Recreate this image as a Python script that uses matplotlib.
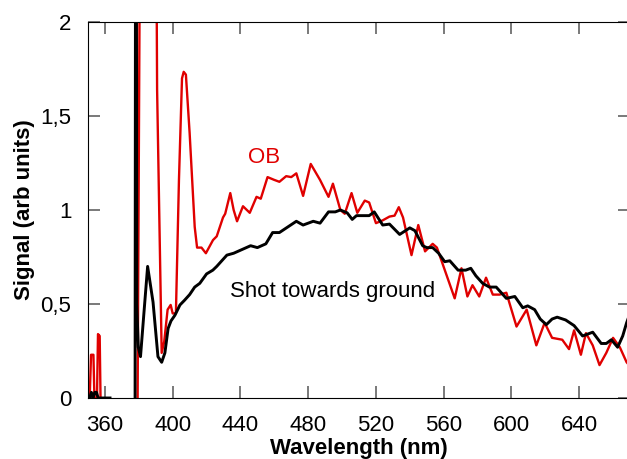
import matplotlib
matplotlib.use("Agg")
import matplotlib.pyplot as plt
from matplotlib.ticker import FuncFormatter

plt.rcParams['font.family'] = ['Liberation Sans', 'DejaVu Sans']

nan = float('nan')

# Shot towards ground (black)
black_wl = [351, 352, 353, 354, 355, 356, 363, 370, 377.8, 378.3, 378.8, 379.7, 381, 383, 385.2, 388.4,
            391.3, 393.5, 395.4, 397.3, 399, 401.3, 404.3, 407, 410, 413, 416, 420, 423.7, 426,
            429, 432, 436, 441, 446, 450, 455, 459, 463, 468, 473, 477, 483, 487, 492, 496, 499,
            503, 506, 508.5, 516, 519, 524, 528, 534, 540, 543, 547.6, 550, 553.5, 557, 560.6,
            563.6, 568.5, 573, 576, 579, 583, 587, 591, 594, 597, 602, 606.7, 609.6, 613.7, 617,
            620.6, 624, 627, 632, 637, 642, 645, 648, 653, 656, 659, 662.7, 665.7, 668, 670]
black_val = [0, 0.03, 0.0, 0.03, 0.03, 0.0, 0.0, nan, 0.0, 5.0, 0.5, 0.27, 0.22, 0.45, 0.70, 0.51,
             0.22, 0.19, 0.24, 0.37, 0.41, 0.44, 0.495, 0.52, 0.55, 0.59, 0.61, 0.66, 0.68, 0.70,
             0.73, 0.76, 0.77, 0.79, 0.81, 0.80, 0.82, 0.88, 0.88, 0.91, 0.94, 0.92, 0.94, 0.93,
             0.99, 0.99, 1.0, 0.985, 0.95, 0.97, 0.97, 0.99, 0.92, 0.925, 0.87, 0.905, 0.89, 0.81,
             0.80, 0.80, 0.77, 0.725, 0.73, 0.68, 0.68, 0.69, 0.65, 0.61, 0.59, 0.59, 0.56, 0.53,
             0.54, 0.48, 0.49, 0.47, 0.42, 0.39, 0.42, 0.43, 0.415, 0.385, 0.33, 0.34, 0.35, 0.29,
             0.29, 0.31, 0.27, 0.33, 0.40, 0.45]

# OB (red)
red_wl = [351, 351.8, 353.2, 353.8, 355.3, 355.9, 356.9, 357.4, 368, 379.3, 381.5, 389.5, 390.8,
          393.5, 395, 397, 398.8, 400, 401.9, 403.7, 405.5, 406.5, 407.8, 410, 413, 414.4, 417, 419.6,
          423.8, 426, 429.7, 431, 434, 436, 438, 441.5, 445.5, 449.5, 452, 456, 460, 463, 467,
          470, 473, 477, 481.5, 487, 492, 494.6, 499, 501.6, 505.6, 509, 513.4, 516, 520, 524,
          528, 531, 533.5, 536, 541, 545, 549, 553.5, 556, 559.5, 566.5, 570.5, 574, 577, 581,
          585, 589, 593, 597, 603, 609, 614.7, 619.6, 624, 630, 634, 637, 641, 644, 648, 652,
          656, 660, 664, 668, 670]
red_val = [0, 0.23, 0.23, 0, 0, 0.34, 0.33, 0, nan, 0, 4.0, 4.0, 1.64,
           0.24, 0.30, 0.47, 0.495, 0.45, 0.45, 1.16, 1.70, 1.735, 1.72, 1.41, 0.91, 0.80, 0.80, 0.77,
           0.84, 0.86, 0.96, 0.98, 1.09, 1.0, 0.94, 1.02, 0.985, 1.07, 1.06, 1.175, 1.16, 1.15,
           1.18, 1.175, 1.195, 1.075, 1.245, 1.16, 1.07, 1.14, 1.0, 0.98, 1.09, 0.985, 1.05, 1.04,
           0.93, 0.945, 0.965, 0.97, 1.015, 0.96, 0.76, 0.92, 0.78, 0.82, 0.80, 0.71, 0.53, 0.69,
           0.54, 0.60, 0.54, 0.64, 0.55, 0.55, 0.56, 0.38, 0.47, 0.28, 0.40, 0.32, 0.31, 0.26,
           0.36, 0.23, 0.345, 0.28, 0.175, 0.24, 0.32, 0.27, 0.19, 0.17]

x_ticks = [360, 400, 440, 480, 520, 560, 600, 640]
y_ticks = [0, 0.5, 1, 1.5, 2]

fig = plt.figure(figsize=(6.27, 4.59), dpi=100)
ax = fig.add_axes([88/627, 61/459, 542/627, 376/459])

ax.plot(red_wl, red_val, color='#e00000', lw=1.7, zorder=2, solid_joinstyle='round')
ax.plot(black_wl, black_val, color='black', lw=2.1, zorder=3, solid_joinstyle='round')

ax.set_xlim(350, 670)
ax.set_ylim(0, 2)
ax.set_xticks(x_ticks)
ax.set_yticks(y_ticks)
ax.yaxis.set_major_formatter(FuncFormatter(lambda v, p: ('%g' % v).replace('.', ',')))
ax.tick_params(direction='in', length=8.6, width=1.1, color='#555555',
               top=True, right=True, labelsize=16, pad=12)
for s in ax.spines.values():
    s.set_linewidth(0.8)

ax.set_xlabel('Wavelength (nm)', fontsize=16, fontweight='bold', labelpad=1.5)
ax.set_ylabel('Signal (arb units)', fontsize=16, fontweight='bold', labelpad=4)

ax.text(444.4, 1.277, 'OB', color='#e00000', fontsize=16, va='center', ha='left')
ax.text(433.8, 0.564, 'Shot towards ground', color='black', fontsize=16, va='center', ha='left')

fig.savefig('out.png', dpi=100)
